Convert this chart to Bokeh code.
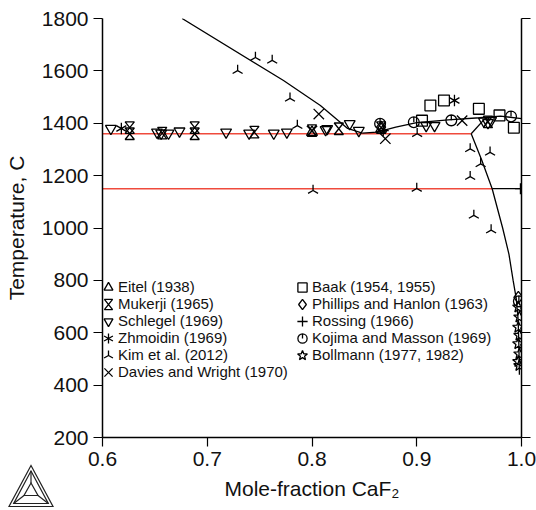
import numpy as np
from bokeh.plotting import figure
from bokeh.layouts import column
from bokeh.models import (Range1d, LinearAxis, Legend, LegendItem, FixedTicker, CustomJS, Div)
from bokeh.embed import file_html
from bokeh.resources import INLINE

# ---------------- data ----------------
x_ticks = [0.6, 0.7, 0.8, 0.9, 1.0]
x_tick_labels = ["0.6", "0.7", "0.8", "0.9", "1.0"]
y_ticks = [200, 400, 600, 800, 1000, 1200, 1400, 1600, 1800]

# calculated phase boundaries
liq_left_x = [0.676, 0.7728, 0.808, 0.834, 0.848]
liq_left_T = [1800, 1563, 1468, 1380, 1362]
liq_right_x = [0.848, 0.862, 0.88, 0.90, 0.93, 0.96, 0.98, 1.0]
liq_right_T = [1362, 1366, 1385, 1402, 1413, 1421, 1427, 1418]
branch_x = [0.952, 0.964]
branch_T = [1360, 1413]
solvus_x = [0.952, 0.962, 0.972, 0.982, 0.988, 0.992, 0.995, 0.9968, 0.9975, 0.998]
solvus_T = [1360, 1260, 1150, 1000, 900, 800, 730, 650, 550, 440]
eut_x = [0.6, 0.952]
eut_T = [1360, 1360]
trans_red_x = [0.6, 0.972]
trans_red_T = [1150, 1150]
trans_blk_x = [0.972, 1.0]
trans_blk_T = [1150, 1150]

# experimental data
eitel_x = [0.866, 0.800]
eitel_T = [1378, 1366]
mukerji_x = [0.626, 0.626, 0.657, 0.688, 0.688, 0.745, 0.800, 0.8256, 0.866, 0.968]
mukerji_T = [1383, 1360, 1362, 1383, 1360, 1366, 1372, 1379, 1383, 1405]
schlegel_x = [0.608, 0.652, 0.656, 0.663, 0.6735, 0.718, 0.740, 0.7635, 0.776, 0.813,
              0.8145, 0.836, 0.8447, 0.909, 0.917, 0.964, 0.968, 0.971]
schlegel_T = [1380, 1366, 1362, 1362, 1370, 1366, 1362, 1362, 1366, 1375,
              1379, 1398, 1372, 1391, 1391, 1408, 1402, 1410]
zhmoidin_x = [0.618, 0.936]
zhmoidin_T = [1380, 1487]
kim_x = [0.729, 0.746, 0.762, 0.779, 0.786, 0.801, 0.900, 0.9004, 0.951, 0.970,
         0.961, 0.951, 0.9545, 0.971]
kim_T = [1601, 1651, 1640, 1495, 1391, 1143, 1151, 1360, 1302, 1289,
         1245, 1196, 1048, 992]
davies_x = [0.8065, 0.800, 0.870, 0.9433]
davies_T = [1435, 1370, 1341, 1410]
baak_x = [0.905, 0.913, 0.926, 0.9593, 0.979, 0.9927]
baak_T = [1410, 1468, 1487, 1455, 1430, 1383]
phillips_x = [0.866, 0.997]
phillips_T = [1385, 735]
rossing_x = [0.868, 0.999]
rossing_T = [1372, 1150]
kojima_x = [0.865, 0.8972, 0.933, 0.990, 0.9975]
kojima_T = [1398, 1404, 1411, 1426, 720]
bollmann_x = [0.997, 0.998, 0.997, 0.998, 0.997, 0.998, 0.997, 0.998]
bollmann_T = [698, 660, 621, 590, 558, 519, 490, 475]

# ---------------- custom marker shapes ----------------
HEAD = """
const {ctx, i, visuals} = cb_data;
const r = cb_data.r < 4 ? cb_data.r * 1.6 : cb_data.r;
"""
TAIL = """
visuals.fill.apply(ctx, i);
visuals.line.apply(ctx, i);
"""
shapes = {
    "@tri": "ctx.moveTo(0,-r); ctx.lineTo(0.866*r,0.5*r); ctx.lineTo(-0.866*r,0.5*r); ctx.closePath();",
    "@itri": "ctx.moveTo(0,r); ctx.lineTo(0.866*r,-0.5*r); ctx.lineTo(-0.866*r,-0.5*r); ctx.closePath();",
    "@hourglass": ("const w=0.8*r; ctx.moveTo(-w,-r); ctx.lineTo(w,-r); ctx.lineTo(-w,r);"
                   " ctx.lineTo(w,r); ctx.closePath();"),
    "@ast": ("ctx.moveTo(0,-r); ctx.lineTo(0,r);"
             " ctx.moveTo(-0.866*r,-0.5*r); ctx.lineTo(0.866*r,0.5*r);"
             " ctx.moveTo(-0.866*r,0.5*r); ctx.lineTo(0.866*r,-0.5*r);"),
    "@invy": ("ctx.moveTo(0,0); ctx.lineTo(0,-r); ctx.moveTo(0,0); ctx.lineTo(-0.87*r,0.5*r);"
              " ctx.moveTo(0,0); ctx.lineTo(0.87*r,0.5*r);"),
    "@x": ("const a=0.8*r; ctx.moveTo(-a,-a); ctx.lineTo(a,a); ctx.moveTo(-a,a); ctx.lineTo(a,-a);"),
    "@sq": "const a=0.9*r; ctx.rect(-a,-a,2*a,2*a);",
    "@dia": "ctx.moveTo(0,-r); ctx.lineTo(0.75*r,0); ctx.lineTo(0,r); ctx.lineTo(-0.75*r,0); ctx.closePath();",
    "@plus": "ctx.moveTo(0,-r); ctx.lineTo(0,r); ctx.moveTo(-r,0); ctx.lineTo(r,0);",
    "@clock": "ctx.arc(0,0,0.9*r,0,2*Math.PI,false); ctx.moveTo(0,-0.9*r); ctx.lineTo(0,0);",
    "@star": ("for (let k=0;k<10;k++){ const rr = (k%2==0) ? r : 0.42*r;"
              " const t = -Math.PI/2 + k*Math.PI/5;"
              " if (k==0) ctx.moveTo(rr*Math.cos(t), rr*Math.sin(t));"
              " else ctx.lineTo(rr*Math.cos(t), rr*Math.sin(t)); } ctx.closePath();"),
}
defs = {k: CustomJS(code=HEAD + v + TAIL) for k, v in shapes.items()}

# ---------------- figure ----------------
FONT = "Liberation Sans"
p = figure(width=536, height=510, x_range=Range1d(0.6, 1.0), y_range=Range1d(200, 1800),
           output_backend="svg", toolbar_location=None,
           min_border_left=102, min_border_right=15, min_border_top=18, min_border_bottom=73,
           x_axis_label="Mole-fraction CaF\u2082", y_axis_label="Temperature, C")
p.grid.visible = False
p.outline_line_color = None
p.background_fill_color = "white"
p.border_fill_color = "white"

p.xaxis.ticker = FixedTicker(ticks=x_ticks)
p.xaxis.major_label_overrides = {t: l for t, l in zip(x_ticks, x_tick_labels)}
p.yaxis.ticker = FixedTicker(ticks=y_ticks)

right = LinearAxis(ticker=FixedTicker(ticks=y_ticks), major_label_standoff=0,
                   major_label_overrides={t: "" for t in y_ticks})
p.add_layout(right, "right")

for ax in [p.xaxis[0], p.yaxis[0], right]:
    ax.axis_line_color = "black"
    ax.axis_line_width = 1.5
    ax.major_tick_line_color = "black"
    ax.major_tick_line_width = 1.2
    ax.major_tick_in = 0
    ax.major_tick_out = 9
    ax.minor_tick_line_color = None
    ax.major_label_text_font = FONT
    ax.major_label_text_color = "#111111"
    ax.axis_label_text_font = FONT
    ax.axis_label_text_font_style = "normal"
    ax.axis_label_text_color = "#111111"
for ax in [p.xaxis[0], p.yaxis[0]]:
    ax.major_label_text_font_size = "21px"
    ax.axis_label_text_font_size = "21px"
p.yaxis[0].major_label_standoff = 5
p.yaxis[0].axis_label_standoff = 11
p.xaxis[0].major_label_standoff = 5
p.xaxis[0].axis_label_standoff = 8

RED = "#ef4a3c"
p.line(eut_x, eut_T, line_color=RED, line_width=1.5)
p.line(trans_red_x, trans_red_T, line_color=RED, line_width=1.5)
p.line(trans_blk_x, trans_blk_T, line_color="black", line_width=1.3)
p.line(liq_left_x, liq_left_T, line_color="black", line_width=1.3)
p.line(liq_right_x, liq_right_T, line_color="black", line_width=1.3)
p.line(branch_x, branch_T, line_color="black", line_width=1.3)
p.line(solvus_x, solvus_T, line_color="black", line_width=1.3)

common = dict(line_color="black", line_width=1.3, fill_color=None, defs=defs)

r_eitel = p.scatter(eitel_x, eitel_T, marker="@tri", size=12.5, **common)
r_muk = p.scatter(mukerji_x, mukerji_T, marker="@hourglass", size=11.5, **common)
r_schl = p.scatter(schlegel_x, schlegel_T, marker="@itri", size=12.5, **common)
r_zhm = p.scatter(zhmoidin_x, zhmoidin_T, marker="@ast", size=11.5, **common)
r_kim = p.scatter(kim_x, kim_T, marker="@invy", size=11.5, **common)
r_dav = p.scatter(davies_x, davies_T, marker="@x", size=13, **common)
r_baak = p.scatter(baak_x, baak_T, marker="@sq", size=12, **common)
r_phil = p.scatter(phillips_x, phillips_T, marker="@dia", size=12, **common)
r_ross = p.scatter(rossing_x, rossing_T, marker="@plus", size=11, **common)
r_koj = p.scatter(kojima_x, kojima_T, marker="@clock", size=12, **common)
r_bol = p.scatter(bollmann_x, bollmann_T, marker="@star", size=12, **common)

leg_style = dict(border_line_color=None, background_fill_alpha=0, padding=0, margin=0,
                 spacing=0, glyph_width=20, glyph_height=16, label_standoff=0,
                 label_text_font=FONT, label_text_font_size="15px",
                 label_text_color="#111111", label_height=16)
leg1 = Legend(items=[
    LegendItem(label="Eitel (1938)", renderers=[r_eitel]),
    LegendItem(label="Mukerji (1965)", renderers=[r_muk]),
    LegendItem(label="Schlegel (1969)", renderers=[r_schl]),
    LegendItem(label="Zhmoidin (1969)", renderers=[r_zhm]),
    LegendItem(label="Kim et al. (2012)", renderers=[r_kim]),
    LegendItem(label="Davies and Wright (1970)", renderers=[r_dav]),
], location=(-4, 57), **leg_style)
leg2 = Legend(items=[
    LegendItem(label="Baak (1954, 1955)", renderers=[r_baak]),
    LegendItem(label="Phillips and Hanlon (1963)", renderers=[r_phil]),
    LegendItem(label="Rossing (1966)", renderers=[r_ross]),
    LegendItem(label="Kojima and Masson (1969)", renderers=[r_koj]),
    LegendItem(label="Bollmann (1977, 1982)", renderers=[r_bol]),
], location=(190, 74), **leg_style)
p.add_layout(leg1)
p.add_layout(leg2)

# small triangular logo in the bottom-left corner (HTML overlay, out of the layout flow)
logo_svg = (
    '<svg width="46" height="44" viewBox="-23 -22 46 44" xmlns="http://www.w3.org/2000/svg">'
    '<g fill="none" stroke="#222222" stroke-width="1.2" stroke-linejoin="miter">'
    '<polygon points="0,-20.5 -22,20.5 22,20.5"/>'
    '<polygon points="0,-15 -17.3,17.5 17.3,17.5"/>'
    '<polygon points="0,-3 -7,9.5 7,9.5"/>'
    '<line x1="0" y1="-15" x2="0" y2="-3"/>'
    '<line x1="-17.3" y1="17.5" x2="-7" y2="9.5"/>'
    '<line x1="17.3" y1="17.5" x2="7" y2="9.5"/>'
    '</g></svg>'
)
logo = Div(text=logo_svg, width=46, height=44,
           styles={"position": "absolute", "left": "3px", "top": "459px", "z-index": "5"})

layout = column(p, logo, spacing=0)
open("out.html", "w").write(file_html(layout, INLINE))
